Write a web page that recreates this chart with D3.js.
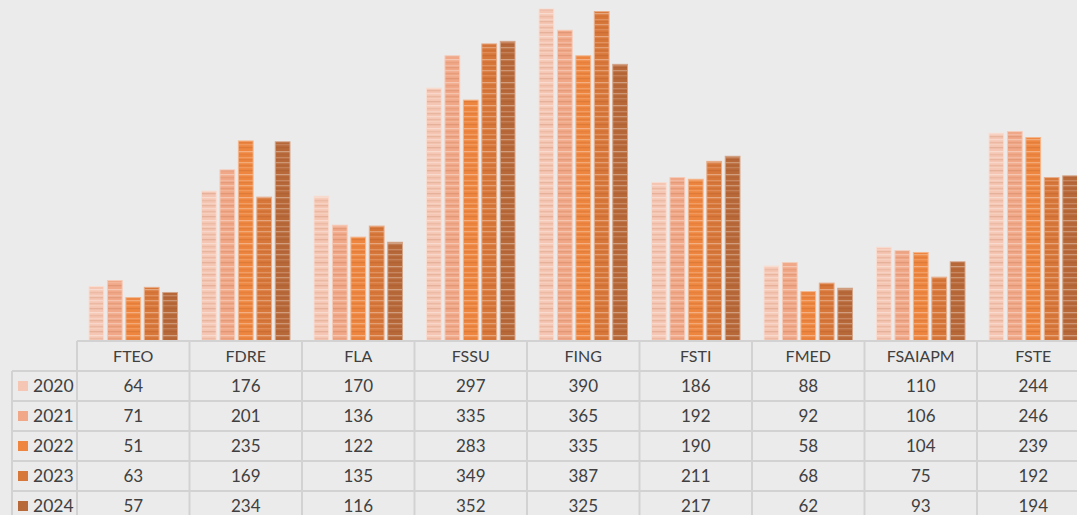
<!DOCTYPE html>
<html>
<head>
<meta charset="utf-8">
<script src="https://cdn.jsdelivr.net/npm/d3@7"></script>
<style>
  body { margin: 0; background: #ebebeb; overflow: hidden; }
  svg { display: block; font-family: "Lato", "Open Sans", sans-serif; }
</style>
</head>
<body>
<div class="chart"></div>
<script>
// Categories and series
const faculties = ["FTEO", "FDRE", "FLA", "FSSU", "FING", "FSTI", "FMED", "FSAIAPM", "FSTE"];
const years = ["2020", "2021", "2022", "2023", "2024"];
const v2020 = [64, 176, 170, 297, 390, 186, 88, 110, 244];
const v2021 = [71, 201, 136, 335, 365, 192, 92, 106, 246];
const v2022 = [51, 235, 122, 283, 335, 190, 58, 104, 239];
const v2023 = [63, 169, 135, 349, 387, 211, 68, 75, 192];
const v2024 = [57, 234, 116, 352, 325, 217, 62, 93, 194];
const series = [v2020, v2021, v2022, v2023, v2024];

// Base colours per year
const colors = ["#f5c6b3", "#f0a888", "#ee8640", "#d8773a", "#b8693a"];

let width = 1077;
let height = 515;

// Layout margins
let margin = {
    top: 0,
    left: 77,
    baseline: 341,
    colWidth: 112.5,
    rowHeight: 30,
    rowLeft: 12
};

let svg = d3.select(".chart").append("svg")
    .attr("width", width)
    .attr("height", height);

svg.append("rect").attr("width", width).attr("height", height).attr("fill", "#ebebeb");

// Striped patterns to mimic the bar texture
const defs = svg.append("defs");
colors.forEach((c, i) => {
    let pat = defs.append("pattern")
        .attr("id", "stripe" + i)
        .attr("patternUnits", "userSpaceOnUse")
        .attr("width", 20).attr("height", 23);
    pat.append("rect").attr("width", 20).attr("height", 23).attr("fill", c);
    let light = d3.interpolateRgb(c, "#ffffff");
    let dark = d3.interpolateRgb(c, "#8a3a10");
    let lines = [[1, light(0.3)], [4, dark(0.1)], [6, light(0.15)], [9, dark(0.15)], [13, light(0.35)], [16, dark(0.08)], [19, light(0.2)], [21, dark(0.12)]];
    lines.forEach(l => {
        pat.append("rect").attr("y", l[0]).attr("width", 20).attr("height", 1.3).attr("fill", l[1]);
    });
});

// Scales
const xScale = d3.scaleBand()
    .domain(faculties)
    .range([margin.left, margin.left + margin.colWidth * faculties.length]);

const x1 = d3.scaleBand()
    .domain(years)
    .range([12, margin.colWidth - 12])
    .paddingInner(0.2);

const yScale = d3.scaleLinear()
    .domain([0, 400])
    .range([margin.baseline, 0.5]);

// Bars
const groups = svg.append("g").selectAll("g")
    .data(faculties)
    .join("g")
    .attr("transform", d => `translate(${xScale(d)},0)`);

groups.selectAll("rect")
    .data((d, fi) => years.map((y, yi) => ({ year: y, yi: yi, value: series[yi][fi] })))
    .join("rect")
    .attr("x", d => x1(d.year))
    .attr("y", d => yScale(d.value))
    .attr("width", x1.bandwidth())
    .attr("height", d => margin.baseline - yScale(d.value))
    .attr("fill", d => `url(#stripe${d.yi})`)
    .attr("stroke", d => d3.interpolateRgb(colors[d.yi], "#ffffff")(0.4))
    .attr("stroke-width", 1);

// Data table
const grid = "#d2d2d2";
const table = svg.append("g");
const tableRight = margin.left + margin.colWidth * faculties.length;
const rowsBottom = margin.baseline + margin.rowHeight * (years.length + 1);

// horizontal lines
table.append("line")
    .attr("x1", margin.left).attr("x2", tableRight)
    .attr("y1", margin.baseline).attr("y2", margin.baseline)
    .attr("stroke", grid).attr("stroke-width", 2);
years.forEach((y, i) => {
    let yy = margin.baseline + margin.rowHeight * (i + 1);
    table.append("line")
        .attr("x1", margin.rowLeft).attr("x2", tableRight)
        .attr("y1", yy).attr("y2", yy)
        .attr("stroke", grid).attr("stroke-width", 2);
});

// vertical lines
table.append("line")
    .attr("x1", margin.rowLeft).attr("x2", margin.rowLeft)
    .attr("y1", margin.baseline + margin.rowHeight).attr("y2", rowsBottom)
    .attr("stroke", grid).attr("stroke-width", 2);
faculties.forEach((f, i) => {
    let xx = xScale(f);
    table.append("line")
        .attr("x1", xx).attr("x2", xx)
        .attr("y1", margin.baseline).attr("y2", rowsBottom)
        .attr("stroke", grid).attr("stroke-width", 2);
});
table.append("line")
    .attr("x1", tableRight).attr("x2", tableRight)
    .attr("y1", margin.baseline).attr("y2", rowsBottom)
    .attr("stroke", grid).attr("stroke-width", 2);

// header labels
table.selectAll(".head")
    .data(faculties)
    .join("text")
    .attr("class", "head")
    .attr("x", d => xScale(d) + margin.colWidth / 2)
    .attr("y", margin.baseline + margin.rowHeight / 2)
    .attr("dy", "0.35em")
    .attr("text-anchor", "middle")
    .attr("font-size", 16)
    .attr("fill", "#404040")
    .text(d => d);

// row labels with legend keys
years.forEach((y, yi) => {
    let cy = margin.baseline + margin.rowHeight * (yi + 1) + margin.rowHeight / 2;
    table.append("rect")
        .attr("x", 18).attr("y", cy - 5)
        .attr("width", 10).attr("height", 10)
        .attr("fill", colors[yi]);
    table.append("text")
        .attr("x", 33).attr("y", cy)
        .attr("dy", "0.35em")
        .attr("font-size", 17.5)
        .attr("fill", "#404040")
        .text(y);

    table.selectAll(".cell" + yi)
        .data(faculties)
        .join("text")
        .attr("class", "cell" + yi)
        .attr("x", d => xScale(d) + margin.colWidth / 2)
        .attr("y", cy)
        .attr("dy", "0.35em")
        .attr("text-anchor", "middle")
        .attr("font-size", 17)
        .attr("fill", "#404040")
        .text((d, fi) => series[yi][fi]);
});
</script>
</body>
</html>
